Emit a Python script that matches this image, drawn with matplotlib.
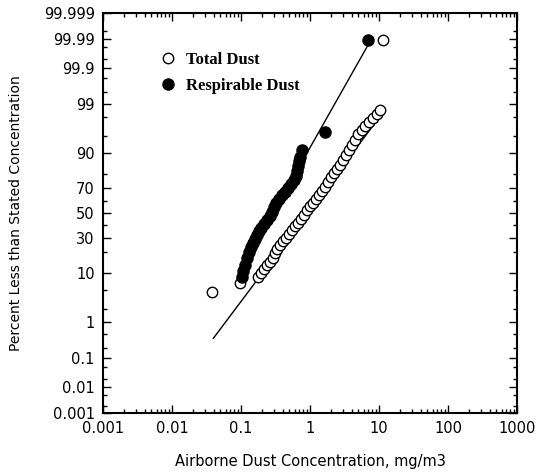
import numpy as np
import matplotlib
matplotlib.use("Agg")
from matplotlib import pyplot as plt
from matplotlib.ticker import FixedLocator, FixedFormatter, NullFormatter, LogLocator
from statistics import NormalDist

# total dust (open circles), mg/m3 and cumulative percent
total_x = [0.038, 0.0967, 0.1763, 0.1949, 0.2154, 0.2381, 0.2632, 0.2909, 0.311, 0.3325,
           0.3675, 0.4062, 0.449, 0.4963, 0.5485, 0.6063, 0.6702, 0.7407, 0.8187, 0.905,
           1.0, 1.105, 1.222, 1.35, 1.492, 1.65, 1.823, 2.015, 2.227, 2.462,
           2.721, 3.008, 3.324, 3.674, 4.061, 4.489, 4.962, 5.669, 6.266, 7.163,
           8.187, 9.355, 10.34, 11.43]
total_p = [4.6, 6.8, 8.6, 10.0, 11.6, 13.4, 14.8, 16.9, 19.7, 22.1,
           24.8, 27.5, 29.7, 32.7, 35.8, 39.1, 41.6, 44.9, 48.3, 52.6,
           55.9, 58.4, 61.7, 65.0, 68.0, 71.0, 74.6, 77.9, 80.3, 82.6,
           84.7, 87.1, 89.2, 91.0, 92.7, 94.0, 95.4, 96.2, 96.8, 97.4,
           97.9, 98.3, 98.6, 99.989]

# respirable dust (filled circles)
resp_x = [0.1034, 0.1069, 0.1143, 0.1222, 0.1306, 0.1396, 0.1492, 0.1595, 0.1705, 0.1823,
          0.1948, 0.2155, 0.2382, 0.2634, 0.2815, 0.3009, 0.3217, 0.3556, 0.3931, 0.4345,
          0.4803, 0.5309, 0.5868, 0.6273, 0.6486, 0.6706, 0.6933, 0.7168, 0.7662, 1.649,
          6.93]
resp_p = [8.6, 10.8, 13.4, 16.9, 20.3, 23.4, 26.1, 29.0, 32.0, 35.0,
          37.4, 40.7, 44.1, 47.4, 50.9, 55.1, 58.4, 61.7, 65.0, 67.3,
          70.3, 73.2, 75.9, 78.5, 81.5, 84.2, 86.6, 88.4, 91.0, 95.8,
          99.989]

# fitted lognormal lines
total_fit_x = [0.0397, 11.4]
total_fit_p = [0.377, 98.4]
resp_fit_x = [0.11, 6.93]
resp_fit_p = [13.6, 99.983]

y_ticks = [0.001, 0.01, 0.1, 1, 10, 30, 50, 70, 90, 99, 99.9, 99.99, 99.999]
y_labels = ["0.001", "0.01", "0.1", "1", "10", "30", "50", "70", "90",
            "99", "99.9", "99.99", "99.999"]
y_minor = [0.002, 0.005, 0.02, 0.05, 0.2, 0.5, 2, 5, 20, 40, 60, 80,
           95, 98, 99.5, 99.8, 99.95, 99.98, 99.995]
x_ticks = [0.001, 0.01, 0.1, 1, 10, 100, 1000]
x_labels = ["0.001", "0.01", "0.1", "1", "10", "100", "1000"]

_nd = NormalDist()
_ppf = np.vectorize(_nd.inv_cdf, otypes=[float])
_cdf = np.vectorize(_nd.cdf, otypes=[float])


def prob_fwd(p):
    p = np.clip(np.asarray(p, dtype=float) / 100.0, 1e-12, 1 - 1e-12)
    return _ppf(p)


def prob_inv(z):
    return _cdf(np.asarray(z, dtype=float)) * 100.0


fig = plt.figure(figsize=(5.38, 4.75), dpi=100)
ax = fig.add_axes([0.1915, 0.1305, 0.7695, 0.842])
ax.set_xscale("log")
ax.set_yscale("function", functions=(prob_fwd, prob_inv))

ax.plot(total_fit_x, total_fit_p, color="black", lw=1.0, zorder=2)
ax.plot(resp_fit_x, resp_fit_p, color="black", lw=1.0, zorder=2)
ax.plot(total_x, total_p, "o", ms=7.5, mfc="white", mec="black", mew=1.0,
        label="Total Dust", zorder=3)
ax.plot(resp_x, resp_p, "o", ms=8, mfc="black", mec="black",
        label="Respirable Dust", zorder=4)

ax.set_xlim(0.001, 1000)
ax.set_ylim(0.001, 99.999)

ax.xaxis.set_major_locator(FixedLocator(x_ticks))
ax.xaxis.set_major_formatter(FixedFormatter(x_labels))
ax.xaxis.set_minor_locator(LogLocator(base=10, subs=np.arange(2, 10), numticks=20))
ax.xaxis.set_minor_formatter(NullFormatter())
ax.yaxis.set_major_locator(FixedLocator(y_ticks))
ax.yaxis.set_major_formatter(FixedFormatter(y_labels))
ax.yaxis.set_minor_locator(FixedLocator(y_minor))
ax.yaxis.set_minor_formatter(NullFormatter())

ax.tick_params(which="both", direction="in", top=True, right=True, width=1.0)
ax.tick_params(which="major", length=6, labelsize=10.5, pad=6)
ax.tick_params(which="minor", length=3)
for s in ax.spines.values():
    s.set_linewidth(1.5)

ax.set_xlabel("Airborne Dust Concentration, mg/m3", fontsize=10.5, labelpad=13)
ax.set_ylabel("Percent Less than Stated Concentration", fontsize=10)
ax.yaxis.set_label_coords(-0.193, 0.5)

ax.legend(loc="upper left", bbox_to_anchor=(0.1, 0.94), frameon=False,
          handlelength=1.0, handletextpad=0.6, labelspacing=0.6,
          prop={"family": "Liberation Serif", "size": 12, "weight": "bold"})

fig.savefig("out.png", dpi=100)
